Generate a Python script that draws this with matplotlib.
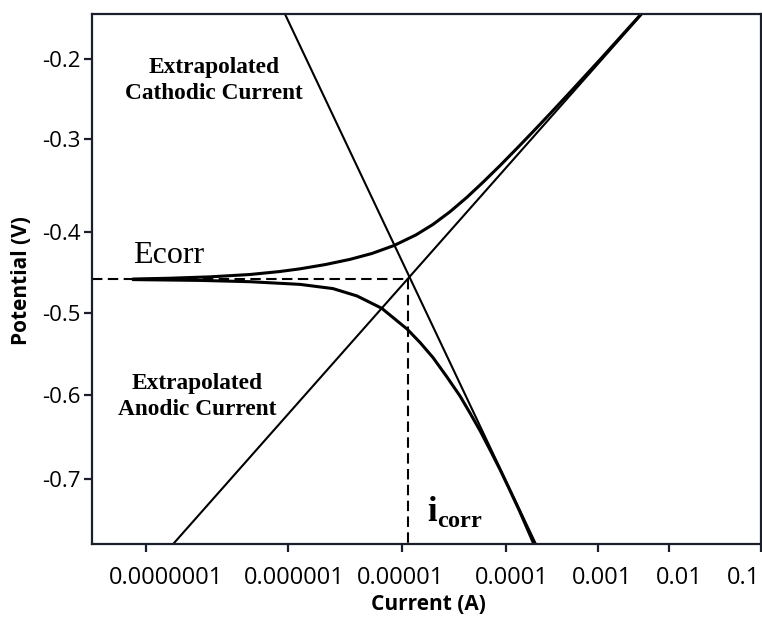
import numpy as np
import matplotlib
matplotlib.use("Agg")
import matplotlib.pyplot as plt
import matplotlib.transforms as mtransforms
from matplotlib.ticker import FixedLocator, FixedFormatter, NullLocator

# ---- data -------------------------------------------------------------
# measured polarisation curve, anodic branch (current in A, potential in V)
anodic_i = [8.14e-8, 1.483e-7, 2.836e-7, 5.43e-7, 8.83e-7, 1.281e-6, 2.12e-6,
            3.51e-6, 5.47e-6, 8.51e-6, 1.363e-5, 1.987e-5, 2.894e-5, 4.217e-5,
            6.01e-5, 8.76e-5, 1.316e-4, 1.947e-4, 3.012e-4, 5.02e-4,
            1.11e-3, 4.055e-3]
anodic_E = [-0.4577, -0.4567, -0.4550, -0.4521, -0.4484, -0.4451, -0.4399,
            -0.4334, -0.4261, -0.4163, -0.4032, -0.3915, -0.3779, -0.3623,
            -0.3462, -0.3283, -0.3097, -0.2909, -0.2678, -0.2403,
            -0.1984, -0.1434]

# measured polarisation curve, cathodic branch
cathodic_i = [8.14e-8, 2.412e-7, 5.43e-7, 1.281e-6, 2.490e-6, 4.04e-6,
              6.645e-6, 1.117e-5, 1.490e-5, 1.987e-5, 2.708e-5, 3.612e-5,
              4.506e-5, 5.623e-5, 7.02e-5, 8.76e-5, 1.105e-4, 1.418e-4,
              1.986e-4]
cathodic_E = [-0.4584, -0.4594, -0.4610, -0.4643, -0.4695, -0.4786,
              -0.4938, -0.5192, -0.5357, -0.5542, -0.5780, -0.6012,
              -0.6214, -0.6423, -0.6652, -0.6887, -0.7137, -0.7393,
              -0.7762]

# Tafel extrapolations (two points each)
tafel_cath_i = [9.57e-7, 2.11e-4]
tafel_cath_E = [-0.1434, -0.7774]
tafel_anod_i = [1.56e-7, 4.18e-3]
tafel_anod_E = [-0.7774, -0.1434]

# corrosion point
E_corr = -0.458
i_corr = 1.14e-5

# axis ticks
x_ticks = [1e-7, 1e-6, 1e-5, 1e-4, 1e-3, 1e-2, 1e-1]
x_tick_labels = ["0.0000001", "0.000001", "0.00001", "0.0001", "0.001", "0.01", "0.1"]
y_ticks = [-0.7, -0.6, -0.5, -0.4, -0.3, -0.2]
y_tick_labels = ["-0.7", "-0.6", "-0.5", "-0.4", "-0.3", "-0.2"]

# ---- axis scales: tick positions along each axis (fraction of axis) ----
x_dec = np.array([-7, -6, -5, -4, -3, -2, -1], dtype=float)
x_frac = np.array([0.0803, 0.2925, 0.4634, 0.6188, 0.7568, 0.8620, 1.0])
y_val = np.array(y_ticks, dtype=float)
y_frac = np.array([0.1226, 0.2811, 0.4353, 0.5881, 0.7636, 0.9145])

# horizontal nudge of each x tick label (pixels)
x_label_shift = [20, 7, -1, 6, 4, 11, -17]


def interp_ext(v, xp, fp):
    v = np.asarray(v, dtype=float)
    out = np.interp(v, xp, fp)
    lo_slope = (fp[1] - fp[0]) / (xp[1] - xp[0])
    hi_slope = (fp[-1] - fp[-2]) / (xp[-1] - xp[-2])
    out = np.where(v < xp[0], fp[0] + (v - xp[0]) * lo_slope, out)
    out = np.where(v > xp[-1], fp[-1] + (v - xp[-1]) * hi_slope, out)
    return out


def x_fwd(x):
    x = np.asarray(x, dtype=float)
    return interp_ext(np.log10(np.clip(x, 1e-300, None)), x_dec, x_frac)


def x_inv(f):
    return 10.0 ** interp_ext(f, x_frac, x_dec)


def y_fwd(v):
    return interp_ext(v, y_val, y_frac)


def y_inv(f):
    return interp_ext(f, y_frac, y_val)


# ---- figure -------------------------------------------------------------
tick_font = "Open Sans"
serif = "Liberation Serif"
plt.rcParams["mathtext.fontset"] = "custom"
plt.rcParams["mathtext.bf"] = "Liberation Serif:bold"
plt.rcParams["mathtext.rm"] = "Liberation Serif"

fig = plt.figure(figsize=(7.62, 6.31), dpi=100)
ax = fig.add_axes([92 / 762, 87 / 631, 669 / 762, 530 / 631])

ax.set_xscale("function", functions=(x_fwd, x_inv))
ax.set_yscale("function", functions=(y_fwd, y_inv))
x_lo, x_hi = float(x_inv(0.0)), float(x_inv(1.0))
y_lo, y_hi = float(y_inv(0.0)), float(y_inv(1.0))
ax.set_xlim(x_lo, x_hi)
ax.set_ylim(y_lo, y_hi)

ink = "black"
curve_lw = 2.2
line_lw = 1.5

ax.plot(anodic_i, anodic_E, color=ink, lw=curve_lw, solid_capstyle="round",
        solid_joinstyle="round")
ax.plot(cathodic_i, cathodic_E, color=ink, lw=curve_lw, solid_capstyle="round",
        solid_joinstyle="round")
ax.plot(tafel_cath_i, tafel_cath_E, color=ink, lw=line_lw)
ax.plot(tafel_anod_i, tafel_anod_E, color=ink, lw=line_lw)

ax.plot([x_lo, i_corr], [E_corr, E_corr], color=ink, lw=1.5,
        linestyle=(0, (5, 2.6)))
ax.plot([i_corr, i_corr], [E_corr, y_lo], color=ink, lw=1.5,
        linestyle=(0, (5, 2.6)))

# ticks
ax.xaxis.set_major_locator(FixedLocator(x_ticks))
ax.xaxis.set_major_formatter(FixedFormatter(x_tick_labels))
ax.xaxis.set_minor_locator(NullLocator())
ax.yaxis.set_major_locator(FixedLocator(y_ticks))
ax.yaxis.set_major_formatter(FixedFormatter(y_tick_labels))
ax.yaxis.set_minor_locator(NullLocator())

spine_col = "#1b1e2b"
for s in ax.spines.values():
    s.set_color(spine_col)
    s.set_linewidth(1.6)
ax.tick_params(axis="both", direction="out", length=6, width=1.6,
               color=spine_col, labelcolor="black")
ax.tick_params(axis="x", pad=10, labelsize=17)
ax.tick_params(axis="y", pad=2, labelsize=16)
for lab in ax.get_xticklabels() + ax.get_yticklabels():
    lab.set_fontfamily(tick_font)
for lab, dx in zip(ax.get_xticklabels(), x_label_shift):
    lab.set_transform(lab.get_transform() +
                      mtransforms.ScaledTranslation(dx / 100, 0, fig.dpi_scale_trans))

# axis titles
fig.text(428 / 762, 1 - 604 / 631, "Current (A)", ha="center", va="center",
         fontsize=15, fontweight="bold", family=tick_font)
fig.text(22 / 762, 1 - 281 / 631, "Potential (V)", ha="center", va="center",
         rotation=90, fontsize=15, fontweight="bold", family=tick_font)

# annotations
ax.text(0.182, 0.874, "Extrapolated\nCathodic Current", transform=ax.transAxes,
        ha="center", va="center", fontsize=16.8, fontweight="bold",
        family=serif, linespacing=1.3)
ax.text(0.157, 0.279, "Extrapolated\nAnodic Current", transform=ax.transAxes,
        ha="center", va="center", fontsize=16.8, fontweight="bold",
        family=serif, linespacing=1.3)
ax.text(0.0613, 0.530, "Ecorr", transform=ax.transAxes, ha="left",
        va="baseline", fontsize=23, family=serif)
ax.text(0.5007, 0.0434, r"$\mathbf{i}_{\mathbf{corr}}$", transform=ax.transAxes,
        ha="left", va="baseline", fontsize=25)

fig.savefig("out.png", dpi=100)
